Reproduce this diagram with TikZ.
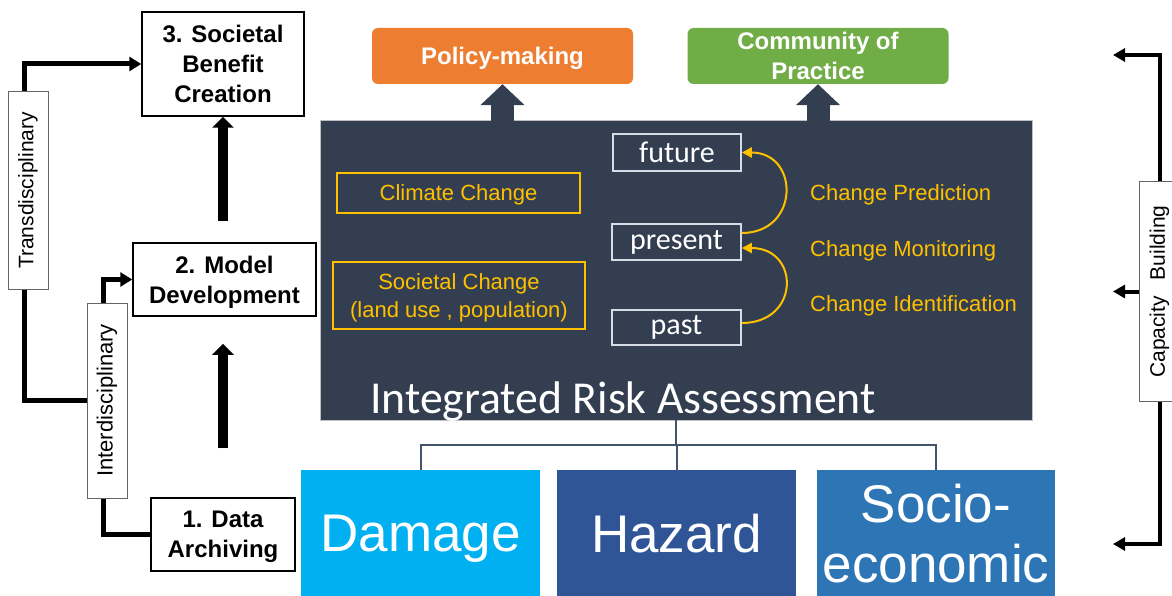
\documentclass[tikz,border=0pt]{standalone}
\usepackage{fontspec}
\setmainfont{Liberation Sans}
\newfontfamily\calfont{Carlito}
\usetikzlibrary{arrows.meta}
\definecolor{panelc}{HTML}{333F50}
\definecolor{orangec}{HTML}{ED7D31}
\definecolor{greenc}{HTML}{70AD47}
\definecolor{damagec}{HTML}{00B0F0}
\definecolor{hazardc}{HTML}{2F5597}
\definecolor{socioc}{HTML}{2E75B6}
\definecolor{yellowc}{HTML}{FFC000}
\definecolor{lightc}{HTML}{D6DCE5}
\definecolor{treec}{HTML}{44546A}
\begin{document}
\begin{tikzpicture}[x=1pt,y=-1pt,
  stepbox/.style={draw=black, line width=1.5pt, fill=white, align=center, inner sep=0pt, text depth=0pt,
    font=\bfseries\fontsize{24}{30}\selectfont},
  sidebox/.style={draw=black!60, line width=1pt, fill=white, rotate=90, inner sep=0pt,
    font=\fontsize{21}{25}\selectfont},
  thk/.style={line width=5pt},
  thkarrow/.style={line width=5pt, -{Triangle[length=12pt,width=14pt]}},
  rarrow/.style={line width=4pt, -{Triangle[length=12pt,width=13pt]}},
  blockarrow/.style={line width=10pt, -{Triangle[length=11pt,width=21pt]}},
  topbox/.style={rounded corners=6pt, minimum width=261pt, minimum height=56pt, text=white,
    align=center, inner sep=0pt, text depth=0pt, font=\bfseries\fontsize{24}{30}\selectfont},
  uparrow/.style={panelc, line width=23pt, -{Triangle[length=21pt,width=43pt]}},
  ybox/.style={draw=yellowc, line width=1.5pt, text=yellowc, align=center, inner sep=0pt, text depth=0pt,
    font=\fontsize{22}{28}\selectfont},
  ylabel/.style={text=yellowc, anchor=west, inner sep=0pt, text depth=0pt, font=\fontsize{22}{26}\selectfont},
  timebox/.style={draw=lightc, line width=1.5pt, text=white, inner sep=0pt, minimum width=129pt,
    font=\calfont\fontsize{30}{34}\selectfont},
  curvearrow/.style={yellowc, line width=2pt, -{Triangle[length=10pt,width=10pt]}},
  bigbox/.style={minimum width=239pt, minimum height=126pt, text=white, align=center, inner sep=0pt,
    text depth=0pt, font=\fontsize{53}{60}\selectfont},
  treeline/.style={treec, line width=2pt}
]
\useasboundingbox (0,0) rectangle (1172,596);

% left column boxes
\node[stepbox, minimum width=162pt, minimum height=104pt] (box3) at (223,64) {3. Societal\\Benefit\\Creation};
\node[stepbox, minimum width=183pt, minimum height=73pt] (box2) at (224.5,279.5) {2. Model\\Development};
\node[stepbox, minimum width=144pt, minimum height=73pt] (box1) at (223,534.5) {1. Data\\Archiving};

\node[sidebox, minimum width=197pt, minimum height=40pt] (trans) at (28,190.5) {Transdisciplinary};
\node[sidebox, minimum width=195pt, minimum height=40pt, font=\fontsize{22}{25}\selectfont] (inter) at (107,400.5) {Interdisciplinary};

\draw[thkarrow] ([xshift=-4pt]trans.east) |- (box3.west);
\draw[thk] ([xshift=-4pt]trans.west) |- (inter.north);
\draw[thkarrow] ([xshift=-4pt]inter.east) |- (box2.west);
\draw[thk] ([xshift=-4pt]inter.west) |- (box1.west);

\draw[blockarrow] ([yshift=21pt]box2.north -| box3.south) -- (box3.south);
\draw[blockarrow] ([yshift=49pt]box1.north) -- ([yshift=-27pt]box2.south -| box1.north);

% panel
\node[fill=panelc, draw=gray!50, line width=0.8pt, minimum width=712pt, minimum height=300pt, inner sep=0pt] (panel) at (676,270) {};
\node[anchor=base west, text=white, inner sep=0pt, font=\calfont\fontsize{45.7}{50}\selectfont] (ira) at (370,413) {Integrated Risk Assessment};

% top boxes
\node[topbox, fill=orangec] (policy) at (502.5,56) {Policy-making};
\node[topbox, fill=greenc] (community) at (818,56) {Community of\\Practice};
\draw[uparrow] ([yshift=-2pt]panel.north -| policy.south) -- (policy.south);
\draw[uparrow] ([yshift=-2pt]panel.north -| community.south) -- (community.south);

% inside panel
\node[ybox, minimum width=243pt, minimum height=40pt] (climate) at (458.5,193) {Climate Change};
\node[ybox, minimum width=252pt, minimum height=67pt] (societal) at (459,295.5) {Societal Change\\(land use , population)};

\node[timebox, minimum width=128pt, minimum height=37pt] (future) at (677,152.5) {future};
\node[timebox, minimum height=36pt] (present) at (676.5,242) {present};
\node[timebox, minimum height=35pt] (past) at (676.5,327.5) {past};

\draw[curvearrow] ([yshift=9pt]present.east) to[out=0,in=0,looseness=1.85] (future.east);
\draw[curvearrow] ([yshift=4.5pt]past.east) to[out=0,in=0,looseness=2.0] ([yshift=-6pt]present.east);

\node[ylabel] (lpred) at (810,193) {Change Prediction};
\node[ylabel] (lmon) at (810,249) {Change Monitoring};
\node[ylabel] (lid) at (810,304) {Change Identification};

% bottom boxes
\node[bigbox, fill=damagec] (damage) at (420.5,533) {Damage};
\node[bigbox, fill=hazardc] (hazard) at (676.5,533) {Hazard};
\node[bigbox, minimum width=238pt, fill=socioc] (socio) at (936,533) {Socio-\\economic};

\coordinate (j) at (678,445);
\draw[treeline] (panel.south) -- (panel.south |- j);
\draw[treeline] (damage.north) -- (damage.north |- j) -- (socio.north |- j) -- (socio.north);
\draw[treeline] (hazard.north) -- (hazard.north |- j);

% right side
\node[sidebox, minimum width=219pt, minimum height=41pt, font=\fontsize{21}{24}\selectfont] (cap) at (1159.5,291.5) {Capacity\hspace{16pt}Building};
\coordinate (rt) at (1113,55);
\coordinate (rb) at (1113,544);
\draw[rarrow] (cap.east) |- (rt);
\draw[rarrow] (cap.west) |- (rb);
\draw[rarrow] (cap.north) -- (cap.north -| rt);
\end{tikzpicture}
\end{document}
